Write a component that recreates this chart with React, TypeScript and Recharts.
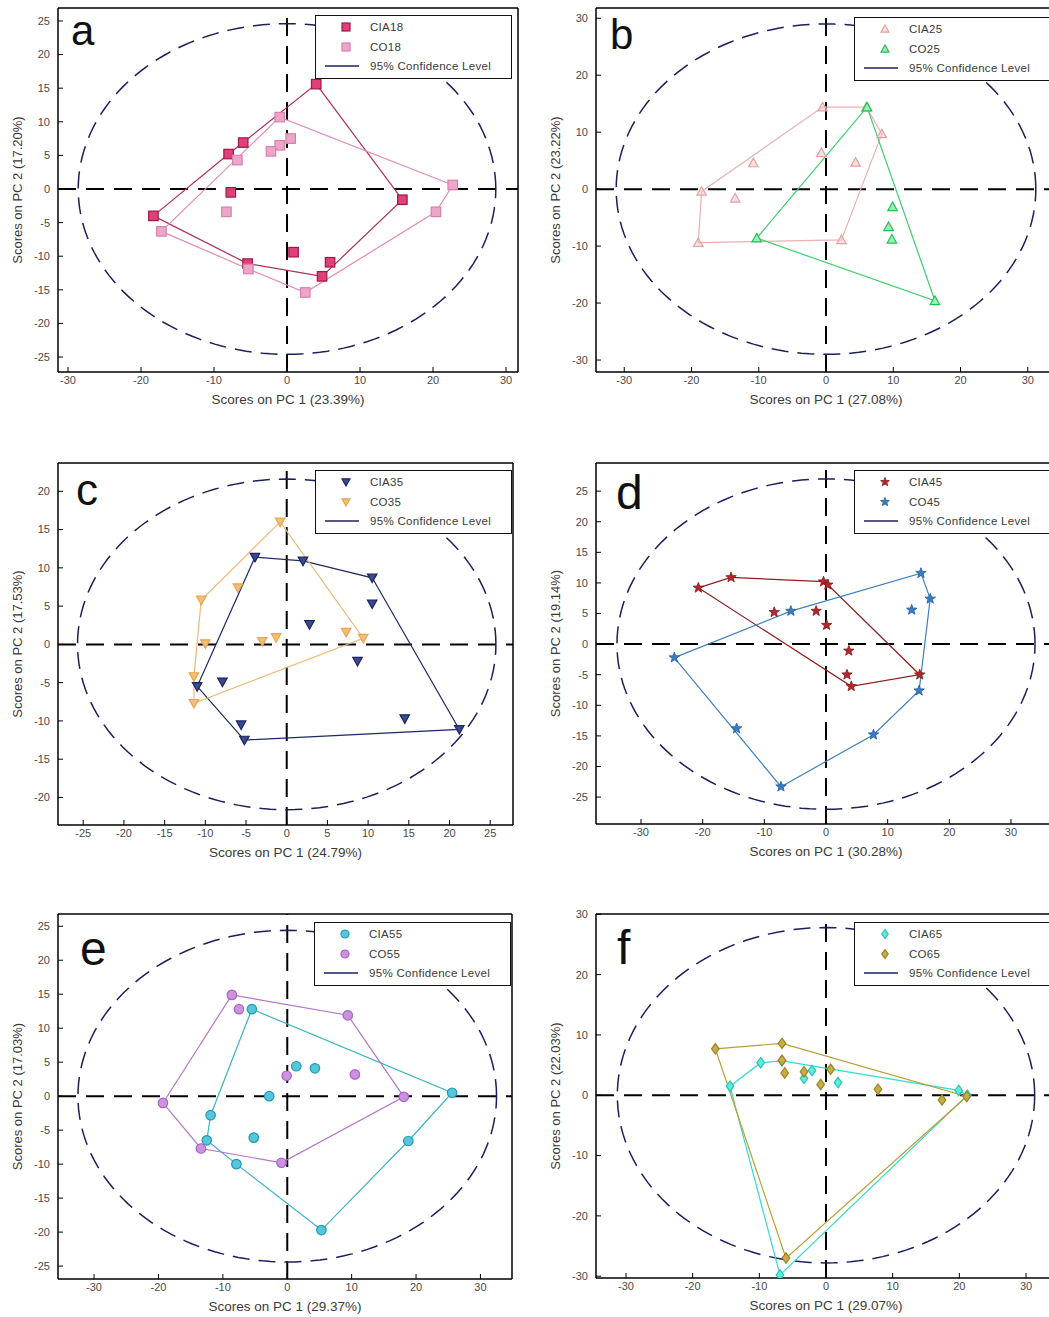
import React from 'react';
import { ScatterChart, Scatter, XAxis, YAxis, ReferenceLine } from 'recharts';

type P = { x: number; y: number };
const p = (x: number, y: number): P => ({ x, y });

// ---------- data ----------
// a
const CIA18: P[] = [p(4, 15.6), p(15.8, -1.6), p(5.9, -10.9), p(4.8, -13), p(0.9, -9.4), p(-5.4, -11.1), p(-18.3, -4), p(-7.7, -0.5), p(-8, 5.2), p(-6, 6.9)];
const CO18: P[] = [p(-1, 10.7), p(0.5, 7.5), p(-1, 6.5), p(-2.2, 5.6), p(22.7, 0.6), p(20.4, -3.4), p(2.5, -15.4), p(-17.2, -6.3), p(-8.3, -3.4), p(-6.8, 4.3), p(-5.3, -11.9)];
// b
const CIA25: P[] = [p(-0.5, 14.4), p(6, 14.4), p(8.3, 9.7), p(2.3, -8.9), p(-19, -9.4), p(-18.5, -0.4), p(-10.8, 4.6), p(-0.7, 6.4), p(4.4, 4.7), p(-13.5, -1.6)];
const CO25: P[] = [p(6.1, 14.4), p(-10.3, -8.6), p(16.2, -19.6), p(9.9, -3.1), p(9.3, -6.6), p(9.8, -8.8)];
// c
const CIA35: P[] = [p(-3.9, 11.4), p(2, 10.9), p(10.5, 8.7), p(10.5, 5.3), p(2.8, 2.6), p(8.7, -2.2), p(21.2, -11.1), p(14.5, -9.7), p(-5.2, -12.5), p(-5.6, -10.5), p(-7.9, -4.9), p(-11, -5.5)];
const CO35: P[] = [p(-0.8, 16), p(-6, 7.4), p(-10.5, 5.8), p(-10, 0.1), p(-3, 0.4), p(-1.3, 0.9), p(7.3, 1.6), p(9.4, 0.8), p(-11.4, -4.2), p(-11.4, -7.7)];
// d
const CIA45: P[] = [p(-20.7, 9.2), p(-15.4, 10.9), p(-0.4, 10.2), p(0.3, 9.7), p(-8.4, 5.2), p(-1.6, 5.4), p(0.1, 3.1), p(3.7, -1.1), p(3.4, -5), p(4.1, -6.9), p(15.2, -5)];
const CO45: P[] = [p(15.4, 11.6), p(16.9, 7.4), p(13.9, 5.6), p(15.1, -7.6), p(7.7, -14.8), p(-7.3, -23.3), p(-14.5, -13.8), p(-24.6, -2.2), p(-5.7, 5.4)];
// e
const CIA55: P[] = [p(-5.5, 12.8), p(25.6, 0.5), p(18.8, -6.6), p(5.3, -19.7), p(-7.9, -10), p(-12.5, -6.5), p(-11.9, -2.8), p(-2.8, 0), p(-5.2, -6.1), p(1.4, 4.4), p(4.3, 4.1)];
const CO55: P[] = [p(-8.6, 14.9), p(-7.5, 12.8), p(9.4, 11.9), p(18.1, -0.1), p(-0.9, -9.8), p(-13.4, -7.7), p(-19.3, -1), p(-0.1, 3), p(10.5, 3.2)];
// f
const CIA65: P[] = [p(-6.9, -29.8), p(19.9, 0.8), p(21.2, 0), p(-14.4, 1.5), p(-9.8, 5.4), p(-6.6, 5.7), p(-3.3, 2.8), p(-2.1, 4.1), p(1.8, 2.1)];
const CO65: P[] = [p(-16.6, 7.7), p(-6.6, 8.6), p(21.1, -0.2), p(-6, -27), p(-6.6, 5.8), p(-6.2, 3.7), p(-3.3, 3.9), p(-0.8, 1.8), p(0.7, 4.3), p(7.8, 1.0), p(17.4, -0.8)];

// 95% confidence ellipse semi-axes (PC1, PC2)
const ELLIPSE_A = [28.6, 24.6];
const ELLIPSE_B = [31.2, 29];
const ELLIPSE_C = [25.7, 21.6];
const ELLIPSE_D = [33.9, 27];
const ELLIPSE_E = [32.5, 24.4];
const ELLIPSE_F = [31.3, 27.8];

// tick labels
const TICKS_10_30 = [-30, -20, -10, 0, 10, 20, 30];
const TICKS_5_25 = [-25, -20, -15, -10, -5, 0, 5, 10, 15, 20, 25];
const TICKS_5_20 = [-20, -15, -10, -5, 0, 5, 10, 15, 20];

const NAVY = '#1c1f5c';

// ---------- helpers ----------
function ellipsePath(ab: number[]): P[] {
  const n = 160;
  const out: P[] = [];
  for (let i = 0; i <= n; i++) {
    const t = (i / n) * Math.PI * 2;
    out.push({ x: ab[0] * Math.cos(t), y: ab[1] * Math.sin(t) });
  }
  return out;
}

function convexHull(pts: P[]): P[] {
  const s = [...pts].sort((u, v) => u.x - v.x || u.y - v.y);
  const cross = (o: P, a: P, b: P) => (a.x - o.x) * (b.y - o.y) - (a.y - o.y) * (b.x - o.x);
  const lower: P[] = [];
  for (const q of s) {
    while (lower.length >= 2 && cross(lower[lower.length - 2], lower[lower.length - 1], q) <= 0) lower.pop();
    lower.push(q);
  }
  const upper: P[] = [];
  for (const q of [...s].reverse()) {
    while (upper.length >= 2 && cross(upper[upper.length - 2], upper[upper.length - 1], q) <= 0) upper.pop();
    upper.push(q);
  }
  upper.pop();
  lower.pop();
  const h = lower.concat(upper);
  return [...h, h[0]];
}

type Kind = 'square' | 'triUp' | 'triDown' | 'star' | 'circle' | 'diamond';

function Marker({ kind, cx, cy, fill, stroke, size }: { kind: Kind; cx: number; cy: number; fill: string; stroke: string; size: number }) {
  const s = size / 2;
  const common = { fill, stroke, strokeWidth: 1.2 };
  switch (kind) {
    case 'square':
      return <rect x={cx - s} y={cy - s} width={size} height={size} {...common} />;
    case 'triUp':
      return <polygon points={`${cx},${cy - s} ${cx + s},${cy + s * 0.8} ${cx - s},${cy + s * 0.8}`} {...common} />;
    case 'triDown':
      return <polygon points={`${cx},${cy + s} ${cx + s},${cy - s * 0.8} ${cx - s},${cy - s * 0.8}`} {...common} />;
    case 'circle':
      return <circle cx={cx} cy={cy} r={s} {...common} />;
    case 'diamond':
      return <polygon points={`${cx},${cy - s * 1.1} ${cx + s * 0.8},${cy} ${cx},${cy + s * 1.1} ${cx - s * 0.8},${cy}`} {...common} />;
    case 'star': {
      const pts: string[] = [];
      for (let i = 0; i < 10; i++) {
        const r = i % 2 === 0 ? s * 1.15 : s * 0.48;
        const a = -Math.PI / 2 + (i * Math.PI) / 5;
        pts.push(`${cx + r * Math.cos(a)},${cy + r * Math.sin(a)}`);
      }
      return <polygon points={pts.join(' ')} {...common} strokeWidth={0.8} />;
    }
  }
  return <g />;
}

type Group = { name: string; data: P[]; kind: Kind; fill: string; stroke: string; hull: string };
type PanelCfg = {
  letter: string;
  letterDx: number;
  letterBase: number;
  letterSize: number;
  frame: { L: number; T: number; R: number; B: number };
  xDomain: [number, number];
  yDomain: [number, number];
  xTicks: number[];
  yTicks: number[];
  ellipse: number[];
  xLabel: string;
  yLabel: string;
  legend: { left: number; top: number };
  groups: Group[];
};

const PANELS: PanelCfg[] = [
  {
    letter: 'a', letterDx: 13, letterBase: 38, letterSize: 42,
    frame: { L: 58, T: 8, R: 518, B: 372 },
    xDomain: [-31.37, 31.64], yDomain: [-27.23, 26.93],
    xTicks: TICKS_10_30, yTicks: TICKS_5_25, ellipse: ELLIPSE_A,
    xLabel: 'Scores on PC 1 (23.39%)', yLabel: 'Scores on PC 2 (17.20%)',
    legend: { left: 315, top: 15 },
    groups: [
      { name: 'CIA18', data: CIA18, kind: 'square', fill: '#e0407a', stroke: '#a0184a', hull: '#b02c5c' },
      { name: 'CO18', data: CO18, kind: 'square', fill: '#eda6c8', stroke: '#d77fae', hull: '#e48ab8' },
    ],
  },
  {
    letter: 'b', letterDx: 14, letterBase: 42, letterSize: 42,
    frame: { L: 596, T: 8, R: 1056, B: 372 },
    xDomain: [-34.2, 34.2], yDomain: [-32.1, 31.8],
    xTicks: TICKS_10_30, yTicks: TICKS_10_30, ellipse: ELLIPSE_B,
    xLabel: 'Scores on PC 1 (27.08%)', yLabel: 'Scores on PC 2 (23.22%)',
    legend: { left: 854, top: 17 },
    groups: [
      { name: 'CIA25', data: CIA25, kind: 'triUp', fill: 'rgba(244,200,200,0.55)', stroke: '#e2a2a2', hull: '#e8b2b2' },
      { name: 'CO25', data: CO25, kind: 'triUp', fill: '#98f0b4', stroke: '#22c055', hull: '#3ccf6a' },
    ],
  },
  {
    letter: 'c', letterDx: 18, letterBase: 42, letterSize: 44,
    frame: { L: 58, T: 463, R: 513, B: 825 },
    xDomain: [-28.1, 27.8], yDomain: [-23.6, 23.7],
    xTicks: TICKS_5_25, yTicks: TICKS_5_20, ellipse: ELLIPSE_C,
    xLabel: 'Scores on PC 1 (24.79%)', yLabel: 'Scores on PC 2 (17.53%)',
    legend: { left: 315, top: 470 },
    groups: [
      { name: 'CIA35', data: CIA35, kind: 'triDown', fill: '#3b4a8c', stroke: '#1c2463', hull: '#1f2a66' },
      { name: 'CO35', data: CO35, kind: 'triDown', fill: '#f3bf78', stroke: '#e6a64e', hull: '#eeb878' },
    ],
  },
  {
    letter: 'd', letterDx: 20, letterBase: 47, letterSize: 48,
    frame: { L: 596, T: 463, R: 1056, B: 824 },
    xDomain: [-37.3, 37.3], yDomain: [-29.4, 29.6],
    xTicks: TICKS_10_30, yTicks: TICKS_5_25, ellipse: ELLIPSE_D,
    xLabel: 'Scores on PC 1 (30.28%)', yLabel: 'Scores on PC 2 (19.14%)',
    legend: { left: 854, top: 470 },
    groups: [
      { name: 'CIA45', data: CIA45, kind: 'star', fill: '#b0282c', stroke: '#8a1418', hull: '#8e2020' },
      { name: 'CO45', data: CO45, kind: 'star', fill: '#3a7cc0', stroke: '#1f5ea0', hull: '#3f80bd' },
    ],
  },
  {
    letter: 'e', letterDx: 22, letterBase: 52, letterSize: 48,
    frame: { L: 58, T: 914, R: 512, B: 1279 },
    xDomain: [-35.6, 34.9], yDomain: [-26.9, 26.8],
    xTicks: TICKS_10_30, yTicks: TICKS_5_25, ellipse: ELLIPSE_E,
    xLabel: 'Scores on PC 1 (29.37%)', yLabel: 'Scores on PC 2 (17.03%)',
    legend: { left: 314, top: 922 },
    groups: [
      { name: 'CIA55', data: CIA55, kind: 'circle', fill: '#58c6da', stroke: '#1f9bb3', hull: '#3bb3c4' },
      { name: 'CO55', data: CO55, kind: 'circle', fill: '#cc92e0', stroke: '#a862c4', hull: '#b574cc' },
    ],
  },
  {
    letter: 'f', letterDx: 21, letterBase: 51, letterSize: 48,
    frame: { L: 596, T: 914, R: 1056, B: 1278 },
    xDomain: [-34.5, 34.5], yDomain: [-30.3, 30.05],
    xTicks: TICKS_10_30, yTicks: TICKS_10_30, ellipse: ELLIPSE_F,
    xLabel: 'Scores on PC 1 (29.07%)', yLabel: 'Scores on PC 2 (22.03%)',
    legend: { left: 854, top: 922 },
    groups: [
      { name: 'CIA65', data: CIA65, kind: 'diamond', fill: '#62eadc', stroke: '#22c7b8', hull: '#34dccb' },
      { name: 'CO65', data: CO65, kind: 'diamond', fill: '#c9ae48', stroke: '#9a8424', hull: '#b8a036' },
    ],
  },
];

const TEXT = '#3a3a3a';
const noShape = () => <g />;

function LegendBox({ cfg }: { cfg: PanelCfg }) {
  const rows = [...cfg.groups.map((g) => ({ g, label: g.name })), { g: null as Group | null, label: '95% Confidence Level' }];
  return (
    <div
      style={{
        position: 'absolute', left: cfg.legend.left, top: cfg.legend.top, width: 197, height: 64,
        border: '1.5px solid #111', background: '#fff', boxSizing: 'border-box',
      }}
    >
      {rows.map((r, i) => (
        <div key={i} style={{ position: 'absolute', left: 0, top: 2 + i * 19.5, height: 18, width: '100%' }}>
          <svg width={50} height={18} style={{ position: 'absolute', left: 0, top: 0 }}>
            {r.g ? (
              <Marker kind={r.g.kind} cx={30} cy={9} size={8} fill={r.g.fill} stroke={r.g.stroke} />
            ) : (
              <line x1={9} x2={43} y1={9} y2={9} stroke={NAVY} strokeWidth={1.5} />
            )}
          </svg>
          <span style={{ position: 'absolute', left: 54, top: 2, lineHeight: '14px', fontSize: 11.5, color: TEXT, letterSpacing: 0.3, whiteSpace: 'nowrap' }}>
            {r.label}
          </span>
        </div>
      ))}
    </div>
  );
}

function Panel({ cfg }: { cfg: PanelCfg }) {
  const { L, T, R, B } = cfg.frame;
  const w = R - L;
  const h = B - T;
  const axisLine = { stroke: '#000', strokeWidth: 1.5 };
  const tickLine = { stroke: '#000', strokeWidth: 1 };
  const tickStyle = { fontSize: 11, fill: '#4a4a4a' };
  return (
    <>
      <div style={{ position: 'absolute', left: L - 60, top: T - 10 }}>
        <ScatterChart width={w + 70} height={h + 60} margin={{ top: 9, right: 9, left: 10, bottom: 18 }}>
          <XAxis
            type="number" dataKey="x" domain={cfg.xDomain} ticks={cfg.xTicks} allowDataOverflow interval={0}
            tickSize={-5} tickMargin={9} height={32} axisLine={axisLine} tickLine={tickLine} tick={tickStyle}
            label={{ value: cfg.xLabel, position: 'insideBottom', offset: 0, style: { fontSize: 13.5, fill: TEXT } }}
          />
          <YAxis
            type="number" dataKey="y" domain={cfg.yDomain} ticks={cfg.yTicks} allowDataOverflow interval={0}
            tickSize={-5} tickMargin={13} width={50} axisLine={axisLine} tickLine={tickLine} tick={tickStyle}
            label={{ value: cfg.yLabel, angle: -90, position: 'insideLeft', offset: 9, style: { textAnchor: 'middle', fontSize: 13, fill: TEXT } }}
          />
          <XAxis
            xAxisId="top" orientation="top" type="number" domain={cfg.xDomain} ticks={cfg.xTicks} allowDataOverflow
            interval={0} tickSize={-5} height={1} tick={false} axisLine={axisLine} tickLine={tickLine}
          />
          <YAxis
            yAxisId="right" orientation="right" type="number" domain={cfg.yDomain} ticks={cfg.yTicks} allowDataOverflow
            interval={0} tickSize={-5} width={1} tick={false} axisLine={axisLine} tickLine={tickLine}
          />
          <Scatter
            data={ellipsePath(cfg.ellipse)}
            line={{ stroke: NAVY, strokeWidth: 1.5, strokeDasharray: '17 9' }}
            shape={noShape}
            isAnimationActive={false}
          />
          <ReferenceLine x={0} stroke="#000" strokeWidth={2} strokeDasharray="18 10" />
          <ReferenceLine y={0} stroke="#000" strokeWidth={2} strokeDasharray="18 10" />
          {cfg.groups.map((g) => (
            <Scatter
              key={g.name + '-hull'}
              data={convexHull(g.data)}
              line={{ stroke: g.hull, strokeWidth: 1.2 }}
              shape={noShape}
              isAnimationActive={false}
            />
          ))}
          {cfg.groups.map((g) => (
            <Scatter
              key={g.name}
              name={g.name}
              data={g.data}
              shape={(props: any) =>
                props.cx == null ? <g /> : <Marker kind={g.kind} cx={props.cx} cy={props.cy} size={9.5} fill={g.fill} stroke={g.stroke} />
              }
              isAnimationActive={false}
            />
          ))}
        </ScatterChart>
      </div>
      <div
        style={{
          position: 'absolute', left: L + cfg.letterDx, top: T + cfg.letterBase - cfg.letterSize * 0.85,
          fontSize: cfg.letterSize, lineHeight: 1, color: '#111',
        }}
      >
        {cfg.letter}
      </div>
      <LegendBox cfg={cfg} />
    </>
  );
}

export default function App() {
  return (
    <div
      style={{
        position: 'absolute', left: 0, top: 0, width: 1049, height: 1317, overflow: 'hidden', background: '#fff',
        fontFamily: '"Liberation Sans", Arial, sans-serif',
      }}
    >
      {PANELS.map((cfg) => (
        <Panel key={cfg.letter} cfg={cfg} />
      ))}
    </div>
  );
}
